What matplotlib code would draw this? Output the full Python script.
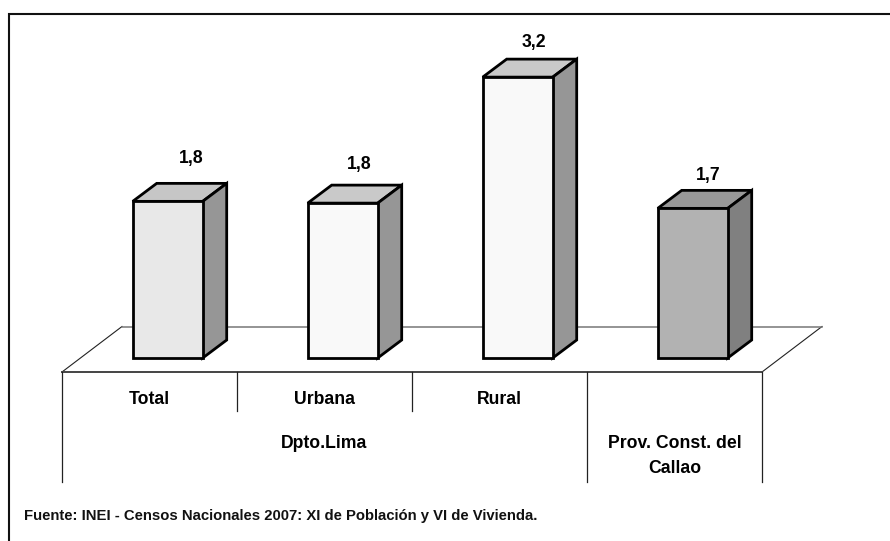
import matplotlib
matplotlib.use('Agg')
import matplotlib.pyplot as plt
from matplotlib.patches import Polygon

categories = ['Total', 'Urbana', 'Rural', '']
values = [1.79, 1.77, 3.21, 1.71]
value_labels = ['1,8', '1,8', '3,2', '1,7']
group_labels = ['Dpto.Lima', 'Prov. Const. del\nCallao']
group_spans = [(0, 3), (3, 4)]
source = 'Fuente: INEI - Censos Nacionales 2007: XI de Población y VI de Vivienda.'

front_colors = ['#e8e8e8', '#f9f9f9', '#f9f9f9', '#b2b2b2']
top_colors = ['#c6c6c6', '#c9c9c9', '#c9c9c9', '#989898']
side_colors = ['#969696', '#969696', '#969696', '#808080']

# label placement relative to the bar, in pixels
label_shift = [23, 16, 16, 15]
label_lift = [25, 21, 17, 15]
group_y = [-85, -98]

WIDTH, HEIGHT = 890, 541
PX_X, PX_Y = 175.0, 87.5  # pixels per category / per unit
X0, Y0 = 62.0, 358.0      # pixel position of x=0, y=0

plt.rcParams['font.family'] = ['Liberation Sans', 'DejaVu Sans']


def dx(px):
    return px / PX_X


def dy(px):
    return px / PX_Y


figure = plt.figure(figsize=(WIDTH / 100, HEIGHT / 100), dpi=100)
ax = figure.add_axes([0, 0, 1, 1])
ax.set_xlim(-X0 / PX_X, (WIDTH - X0) / PX_X)
ax.set_ylim((Y0 - HEIGHT) / PX_Y, Y0 / PX_Y)
ax.axis('off')

# outer frame, open on the right and at the bottom
ax.plot([dx(9.5 - X0), dx(9.5 - X0), dx(WIDTH - X0)],
        [dy(Y0 - HEIGHT), dy(Y0 - 14), dy(Y0 - 14)],
        color='#111111', lw=1.5, solid_joinstyle='miter', zorder=1)

# floor
floor_y = dy(-14)
back_y = dy(31.5)
ax.plot([0, dx(60)], [floor_y, back_y], color='#222222', lw=0.8, zorder=2)
ax.plot([4, 4 + dx(60)], [floor_y, back_y], color='#222222', lw=0.8, zorder=2)
ax.plot([dx(60), 4 + dx(60)], [back_y, back_y], color='#777777', lw=1.1, zorder=2)
ax.plot([0, 4], [floor_y, floor_y], color='#444444', lw=1.4, zorder=2)

# table under the floor
for x in [0, 3, 4]:
    ax.plot([x, x], [floor_y, dy(-124)], color='#222222', lw=0.9, zorder=2)
for x in [1, 2]:
    ax.plot([x, x], [floor_y, dy(-53)], color='#222222', lw=0.9, zorder=2)

# bars
bar_w = dx(70)
off_x, off_y = dx(24), dy(18)
for i, value in enumerate(values):
    left = i + dx(70.7)
    right = left + bar_w
    ax.add_patch(Polygon([(left, 0), (right, 0), (right, value), (left, value)],
                         fc=front_colors[i], ec='black', lw=2, joinstyle='miter', zorder=4))
    ax.add_patch(Polygon([(left, value), (right, value), (right + off_x, value + off_y), (left + off_x, value + off_y)],
                         fc=top_colors[i], ec='black', lw=2, joinstyle='miter', zorder=3))
    ax.add_patch(Polygon([(right, 0), (right + off_x, off_y), (right + off_x, value + off_y), (right, value)],
                         fc=side_colors[i], ec='black', lw=2, joinstyle='miter', zorder=3))
    ax.text(left + bar_w / 2 + dx(label_shift[i]), value + off_y + dy(label_lift[i]), value_labels[i],
            ha='center', va='center', fontsize=12.7, fontweight='bold', color='black')
    if categories[i]:
        ax.text(i + 0.5, dy(-41), categories[i], ha='center', va='center',
                fontsize=12.7, fontweight='bold', color='black')

for label, (start, end), y in zip(group_labels, group_spans, group_y):
    ax.text((start + end) / 2, dy(y), label, ha='center', va='center',
            fontsize=12.7, fontweight='bold', color='black', linespacing=1.6)

ax.text(dx(24 - X0), dy(Y0 - 516), source, ha='left', va='center',
        fontsize=10.75, fontweight='bold', color='#111111')

figure.savefig('out.png', dpi=100)
